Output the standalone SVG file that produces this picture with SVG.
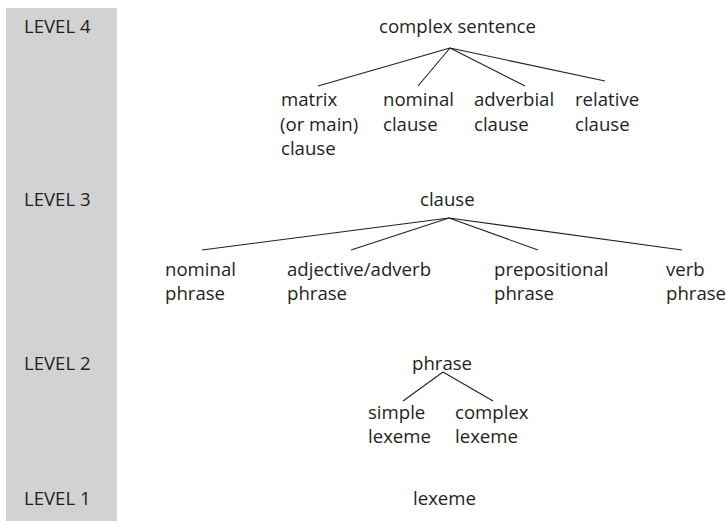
<svg xmlns="http://www.w3.org/2000/svg" width="726" height="521" viewBox="0 0 726 521">
  <style>
    text { font-family: "Open Sans", "Noto Sans", "Liberation Sans", sans-serif; font-size: 18.6px; fill: #231f20; }
    .edge { stroke: #231f20; stroke-width: 1.1; fill: none; }
  </style>
  <rect x="6" y="8" width="111" height="513" fill="#d1d2d4"/>
  <g id="levels">
    <text x="24" y="33">LEVEL 4</text>
    <text x="24" y="206">LEVEL 3</text>
    <text x="24" y="370">LEVEL 2</text>
    <text x="24" y="505">LEVEL 1</text>
  </g>
  <g id="connectors">
    <line class="edge" x1="450" y1="48" x2="318" y2="86"/>
    <line class="edge" x1="450" y1="48" x2="418" y2="86"/>
    <line class="edge" x1="450" y1="48" x2="525" y2="86"/>
    <line class="edge" x1="450" y1="48" x2="605" y2="81"/>
    <line class="edge" x1="449" y1="218" x2="202" y2="250"/>
    <line class="edge" x1="449" y1="218" x2="351" y2="250"/>
    <line class="edge" x1="449" y1="218" x2="538" y2="250"/>
    <line class="edge" x1="449" y1="218" x2="682" y2="250"/>
    <line class="edge" x1="443" y1="372" x2="403" y2="401"/>
    <line class="edge" x1="443" y1="372" x2="493" y2="401"/>
  </g>
  <g id="complex-sentence"><text x="379" y="33">complex sentence</text></g>
  <g id="matrix-clause">
    <text x="281" y="106">matrix</text>
    <text x="280" y="131">(or main)</text>
    <text x="281" y="155">clause</text>
  </g>
  <g id="nominal-clause">
    <text x="383" y="106">nominal</text>
    <text x="383" y="131">clause</text>
  </g>
  <g id="adverbial-clause">
    <text x="474" y="106">adverbial</text>
    <text x="474" y="131">clause</text>
  </g>
  <g id="relative-clause">
    <text x="575" y="106">relative</text>
    <text x="575" y="131">clause</text>
  </g>
  <g id="clause"><text x="420" y="206">clause</text></g>
  <g id="nominal-phrase">
    <text x="165" y="276">nominal</text>
    <text x="165" y="300">phrase</text>
  </g>
  <g id="adjective-adverb-phrase">
    <text x="287" y="276">adjective/adverb</text>
    <text x="287" y="300">phrase</text>
  </g>
  <g id="prepositional-phrase">
    <text x="494" y="276">prepositional</text>
    <text x="494" y="300">phrase</text>
  </g>
  <g id="verb-phrase">
    <text x="666" y="276">verb</text>
    <text x="666" y="300">phrase</text>
  </g>
  <g id="phrase"><text x="412" y="370">phrase</text></g>
  <g id="simple-lexeme">
    <text x="368" y="419">simple</text>
    <text x="368" y="443">lexeme</text>
  </g>
  <g id="complex-lexeme">
    <text x="455" y="419">complex</text>
    <text x="455" y="443">lexeme</text>
  </g>
  <g id="lexeme"><text x="413" y="505">lexeme</text></g>
</svg>
